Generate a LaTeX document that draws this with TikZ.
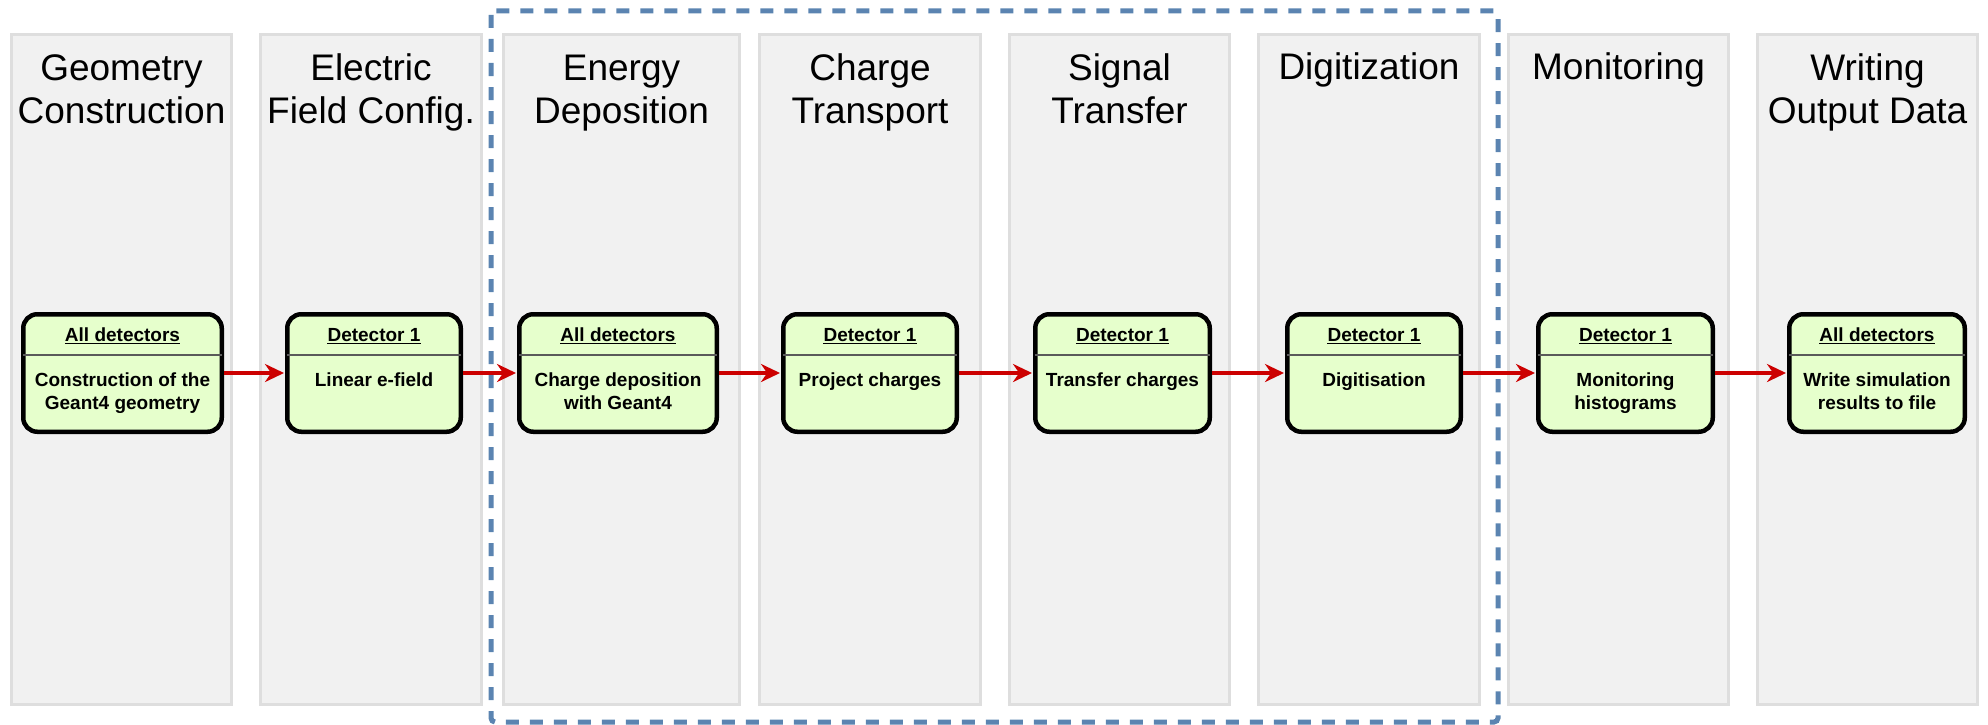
\documentclass[tikz,border=0pt]{standalone}
\usepackage{fontspec}
\setmainfont{Liberation Sans}
\usetikzlibrary{arrows.meta}
\definecolor{colfill}{HTML}{F1F1F1}
\definecolor{colborder}{HTML}{DEDEDE}
\definecolor{procfill}{HTML}{E6FFCC}
\definecolor{divgray}{HTML}{5A5A5A}
\definecolor{arrred}{HTML}{CC0000}
\definecolor{grpblue}{HTML}{5B84B1}
\tikzset{
  colbox/.style={draw=colborder, fill=colfill, line width=3pt, minimum height=670pt, inner sep=0pt},
  coltitle/.style={font=\fontsize{37}{43}\selectfont, align=center, anchor=base, inner sep=0pt},
  proc/.style={draw=black, fill=procfill, line width=4.5pt, rounded corners=14pt, minimum height=117.5pt, inner sep=0pt},
  hdr/.style={font=\bfseries\fontsize{19}{23}\selectfont, anchor=base, inner sep=0pt},
  bodytext/.style={font=\bfseries\fontsize{19}{23}\selectfont, align=center, anchor=base, inner sep=0pt},
  divider/.style={draw=divgray, line width=2pt, shorten <=2pt, shorten >=2pt},
  uline/.style={draw=black, line width=1.7pt},
  flow/.style={draw=arrred, line width=3.2pt, -{Stealth[length=19pt,width=18pt]}, shorten >=1pt},
  groupbox/.style={draw=grpblue, line width=5pt, dash pattern=on 13pt off 11pt, rounded corners=4pt}
}
\begin{document}
\begin{tikzpicture}[x=1pt,y=-1pt]
\useasboundingbox (0,0) rectangle (1988,725);
% columns
\node[colbox, minimum width=220pt] (c1) at (121.5,369.5) {};
\node[colbox, minimum width=221pt] (c2) at (371,369.5) {};
\node[colbox, minimum width=236pt] (c3) at (621.5,369.5) {};
\node[colbox, minimum width=221pt] (c4) at (870,369.5) {};
\node[colbox, minimum width=220pt] (c5) at (1119.5,369.5) {};
\node[colbox, minimum width=221pt] (c6) at (1369,369.5) {};
\node[colbox, minimum width=220pt] (c7) at (1618.5,369.5) {};
\node[colbox, minimum width=220pt] (c8) at (1867.5,369.5) {};
% column titles (base = baseline of last line)
\node[coltitle] (t1) at (121.5,123) {Geometry\\Construction};
\node[coltitle] (t2) at (371,123) {Electric\\Field Config.};
\node[coltitle] (t3) at (621.5,123) {Energy\\Deposition};
\node[coltitle] (t4) at (870,123) {Charge\\Transport};
\node[coltitle] (t5) at (1119.5,123) {Signal\\Transfer};
\node[coltitle] (t6) at (1369,80) {Digitization};
\node[coltitle] (t7) at (1618.5,80) {Monitoring};
\node[coltitle] (t8) at (1867.5,123) {Writing\\Output Data};
% process nodes
\foreach \n/\x/\w in {n1/122.5/198.5, n2/374/173.5, n3/618/197.5, n4/870/173.5, n5/1122.5/174.5, n6/1374/173.5, n7/1625.5/174.5, n8/1877/175.5}{
  \node[proc, minimum width=\w pt] (\n) at (\x,373) {};
  \draw[divider] (\n.west |- 0,355) -- (\n.east |- 0,355);
}
% headers
\foreach \n/\h/\lab in {n1/h1/All detectors, n2/h2/Detector 1, n3/h3/All detectors, n4/h4/Detector 1, n5/h5/Detector 1, n6/h6/Detector 1, n7/h7/Detector 1, n8/h8/All detectors}{
  \node[hdr] (\h) at (\n.center |- 0,341) {\lab};
  \draw[uline] ([yshift=-2.5pt]\h.base west) -- ([yshift=-2.5pt]\h.base east);
}
% bodies
\node[bodytext] (b1) at (n1.center |- 0,409) {Construction of the\\Geant4 geometry};
\node[bodytext] (b2) at (n2.center |- 0,386) {Linear e-field};
\node[bodytext] (b3) at (n3.center |- 0,409) {Charge deposition\\with Geant4};
\node[bodytext] (b4) at (n4.center |- 0,386) {Project charges};
\node[bodytext] (b5) at (n5.center |- 0,386) {Transfer charges};
\node[bodytext] (b6) at (n6.center |- 0,386) {Digitisation};
\node[bodytext] (b7) at (n7.center |- 0,409) {Monitoring\\histograms};
\node[bodytext] (b8) at (n8.center |- 0,409) {Write simulation\\results to file};
% flow arrows
\draw[flow] (n1.east) -- (n2.west);
\draw[flow] (n2.east) -- (n3.west);
\draw[flow] (n3.east) -- (n4.west);
\draw[flow] (n4.east) -- (n5.west);
\draw[flow] (n5.east) -- (n6.west);
\draw[flow] (n6.east) -- (n7.west);
\draw[flow] (n7.east) -- (n8.west);
% group frame
\draw[groupbox] (491,11) rectangle (1498,722);
\end{tikzpicture}
\end{document}
